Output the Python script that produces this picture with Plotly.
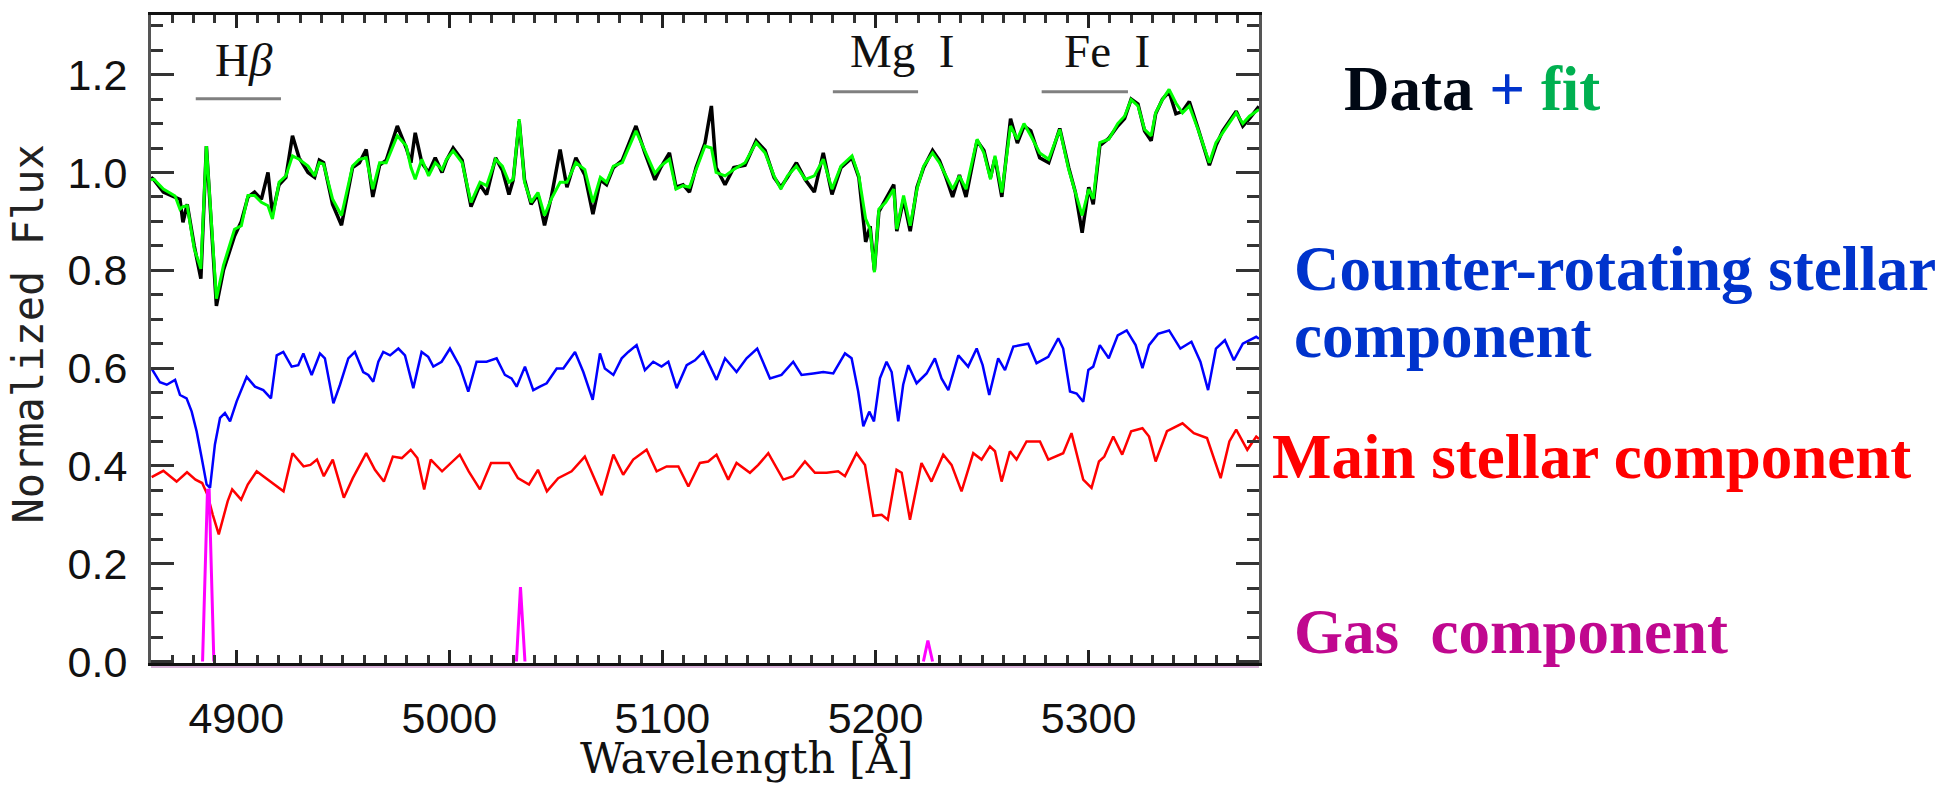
import plotly.graph_objects as go

# ---------------- data ----------------
wl_fit = [4860.0, 4861.4, 4865.8, 4871.3, 4873.6, 4875.0, 4877.0, 4880.3, 4883.4, 4886.0,
          4890.7, 4894.0, 4899.2, 4902.4, 4905.5, 4908.6, 4911.8, 4914.9, 4917.0, 4920.1,
          4923.3, 4926.4, 4929.5, 4933.7, 4936.8, 4939.0, 4941.0, 4945.2, 4949.4, 4954.6,
          4957.8, 4961.0, 4964.1, 4967.3, 4970.4, 4975.6, 4979.8, 4982.0, 4984.0, 4987.1,
          4990.3, 4993.4, 4996.6, 4998.7, 5001.8, 5006.0, 5010.2, 5014.4, 5017.5, 5021.7,
          5024.9, 5028.0, 5030.0, 5032.8, 5035.3, 5038.4, 5041.6, 5044.7, 5047.9, 5052.0,
          5055.2, 5059.4, 5063.6, 5067.4, 5070.9, 5073.8, 5077.0, 5081.2, 5087.6, 5091.8,
          5096.5, 5099.2, 5103.3, 5106.4, 5109.7, 5112.7, 5115.8, 5120.0, 5123.0, 5125.2,
          5129.4, 5133.5, 5138.8, 5144.0, 5148.2, 5152.4, 5155.6, 5158.7, 5162.9, 5167.1,
          5171.3, 5175.5, 5179.6, 5183.8, 5189.0, 5192.2, 5195.4, 5197.5, 5199.5, 5201.6,
          5204.8, 5208.6, 5210.0, 5213.2, 5216.3, 5219.5, 5222.6, 5226.8, 5230.0, 5233.1,
          5236.2, 5239.4, 5242.5, 5247.7, 5250.9, 5254.0, 5256.1, 5259.3, 5263.4, 5266.6,
          5269.7, 5272.9, 5277.1, 5281.3, 5286.5, 5290.7, 5293.8, 5297.0, 5300.1, 5302.2,
          5305.3, 5309.5, 5313.7, 5316.9, 5320.0, 5323.2, 5326.3, 5329.4, 5331.5, 5334.7,
          5337.8, 5341.0, 5344.1, 5347.3, 5351.4, 5356.7, 5359.8, 5363.0, 5366.1, 5369.3,
          5372.4, 5375.5, 5380.0]
flux_fit = [0.985, 0.986, 0.966, 0.952, 0.925, 0.930, 0.932, 0.844, 0.803, 1.054,
            0.742, 0.810, 0.884, 0.891, 0.953, 0.953, 0.939, 0.932, 0.905, 0.980,
            0.993, 1.034, 1.027, 1.013, 0.993, 1.020, 1.017, 0.946, 0.912, 1.013,
            1.027, 1.030, 0.966, 1.020, 1.020, 1.075, 1.054, 1.010, 0.986, 1.027,
            0.993, 1.020, 1.006, 1.027, 1.044, 1.020, 0.939, 0.980, 0.973, 1.027,
            1.013, 0.980, 0.986, 1.109, 0.980, 0.939, 0.959, 0.912, 0.946, 0.980,
            0.980, 1.020, 1.006, 0.939, 0.990, 0.980, 1.013, 1.020, 1.085, 1.045,
            0.998, 1.013, 1.027, 0.966, 0.973, 0.970, 1.006, 1.054, 1.050, 1.000,
            0.993, 1.006, 1.020, 1.061, 1.040, 0.993, 0.966, 0.993, 1.013, 0.986,
            0.993, 1.027, 0.966, 1.013, 1.034, 0.993, 0.905, 0.884, 0.796, 0.925,
            0.939, 0.966, 0.884, 0.953, 0.891, 0.966, 1.013, 1.040, 1.020, 0.993,
            0.966, 0.993, 0.966, 1.068, 1.040, 0.986, 1.034, 0.959, 1.095, 1.068,
            1.100, 1.075, 1.040, 1.027, 1.088, 1.006, 0.959, 0.912, 0.966, 0.946,
            1.061, 1.068, 1.100, 1.115, 1.149, 1.136, 1.088, 1.075, 1.122, 1.149,
            1.170, 1.142, 1.122, 1.136, 1.088, 1.020, 1.061, 1.081, 1.100, 1.122,
            1.100, 1.115, 1.129]
flux_data = [0.990, 0.985, 0.960, 0.950, 0.945, 0.898, 0.935, 0.850, 0.783, 1.054,
             0.727, 0.800, 0.870, 0.900, 0.950, 0.960, 0.945, 1.000, 0.915, 0.975,
             0.990, 1.075, 1.030, 1.000, 0.990, 1.025, 1.020, 0.935, 0.892, 1.010,
             1.020, 1.047, 0.950, 1.015, 1.025, 1.095, 1.050, 1.020, 1.081, 1.020,
             1.000, 1.030, 1.000, 1.025, 1.050, 1.025, 0.930, 0.975, 0.955, 1.030,
             1.005, 0.955, 0.985, 1.105, 0.985, 0.935, 0.955, 0.892, 0.950, 1.047,
             0.970, 1.030, 0.995, 0.915, 0.985, 0.975, 1.010, 1.025, 1.095, 1.040,
             0.985, 1.010, 1.040, 0.970, 0.975, 0.960, 1.010, 1.060, 1.136, 1.010,
             0.975, 1.010, 1.015, 1.065, 1.045, 0.990, 0.970, 0.990, 1.020, 0.985,
             0.960, 1.040, 0.955, 1.010, 1.030, 0.990, 0.858, 0.890, 0.800, 0.920,
             0.945, 0.975, 0.880, 0.945, 0.880, 0.970, 1.010, 1.045, 1.025, 0.990,
             0.950, 0.995, 0.950, 1.065, 1.045, 0.990, 1.030, 0.950, 1.110, 1.060,
             1.095, 1.085, 1.030, 1.020, 1.090, 1.010, 0.960, 0.877, 0.970, 0.935,
             1.055, 1.070, 1.095, 1.110, 1.150, 1.140, 1.085, 1.065, 1.120, 1.150,
             1.165, 1.120, 1.125, 1.145, 1.090, 1.015, 1.055, 1.085, 1.105, 1.125,
             1.095, 1.110, 1.135]

wl_counter = [4860.3, 4864.2, 4867.4, 4871.3, 4873.6, 4876.7, 4879.1, 4881.4, 4883.8, 4886.1,
              4887.7, 4890.0, 4892.4, 4894.7, 4897.1, 4900.2, 4904.9, 4908.8, 4912.7, 4916.3,
              4919.0, 4922.1, 4926.0, 4929.1, 4931.5, 4935.4, 4939.3, 4941.6, 4945.6, 4948.7,
              4952.6, 4955.7, 4959.6, 4962.0, 4964.3, 4966.7, 4969.0, 4972.2, 4976.1, 4979.2,
              4983.1, 4987.0, 4990.1, 4992.5, 4996.4, 5000.3, 5005.0, 5008.9, 5012.8, 5017.5,
              5022.2, 5026.1, 5029.2, 5031.6, 5035.5, 5039.4, 5042.5, 5045.7, 5050.4, 5053.5,
              5059.0, 5062.9, 5067.3, 5070.7, 5073.0, 5077.0, 5080.9, 5084.0, 5087.9, 5091.8,
              5095.7, 5099.6, 5102.8, 5106.7, 5111.4, 5115.3, 5119.2, 5125.4, 5129.4, 5134.8,
              5139.5, 5144.5, 5150.5, 5155.9, 5161.4, 5165.3, 5170.8, 5175.5, 5180.2, 5185.7,
              5188.8, 5191.9, 5194.3, 5197.1, 5199.3, 5202.1, 5205.2, 5207.6, 5210.7, 5213.0,
              5215.4, 5219.3, 5224.0, 5227.9, 5231.0, 5234.2, 5238.9, 5243.5, 5247.5, 5250.3,
              5253.4, 5257.6, 5260.8, 5264.7, 5271.7, 5275.6, 5281.1, 5285.8, 5288.1, 5291.3,
              5294.4, 5297.5, 5299.9, 5302.2, 5305.3, 5309.5, 5313.7, 5317.9, 5322.1, 5325.3,
              5328.4, 5332.6, 5337.8, 5343.1, 5348.3, 5352.5, 5356.1, 5359.8, 5364.0, 5368.2,
              5372.4, 5378.7, 5380.0]
flux_counter = [0.599, 0.571, 0.566, 0.576, 0.545, 0.538, 0.511, 0.471, 0.416, 0.362,
                0.355, 0.444, 0.498, 0.508, 0.491, 0.532, 0.582, 0.562, 0.555, 0.538,
                0.626, 0.633, 0.603, 0.606, 0.630, 0.586, 0.630, 0.620, 0.528, 0.566,
                0.620, 0.633, 0.592, 0.586, 0.572, 0.613, 0.633, 0.626, 0.640, 0.626,
                0.559, 0.633, 0.623, 0.603, 0.613, 0.640, 0.603, 0.552, 0.613, 0.613,
                0.620, 0.586, 0.579, 0.562, 0.603, 0.555, 0.562, 0.569, 0.599, 0.599,
                0.633, 0.592, 0.535, 0.630, 0.599, 0.586, 0.620, 0.633, 0.647, 0.596,
                0.613, 0.603, 0.613, 0.559, 0.606, 0.616, 0.633, 0.576, 0.620, 0.592,
                0.620, 0.640, 0.579, 0.586, 0.613, 0.586, 0.589, 0.592, 0.589, 0.630,
                0.620, 0.552, 0.481, 0.511, 0.491, 0.579, 0.613, 0.592, 0.491, 0.566,
                0.606, 0.569, 0.589, 0.620, 0.579, 0.555, 0.626, 0.603, 0.640, 0.606,
                0.545, 0.620, 0.596, 0.644, 0.650, 0.610, 0.623, 0.661, 0.640, 0.552,
                0.548, 0.531, 0.596, 0.603, 0.647, 0.620, 0.667, 0.677, 0.647, 0.600,
                0.647, 0.670, 0.677, 0.640, 0.654, 0.613, 0.555, 0.640, 0.657, 0.616,
                0.650, 0.664, 0.660]

wl_main = [4860.3, 4865.8, 4872.0, 4876.9, 4880.9, 4884.0, 4886.5, 4889.0, 4891.8, 4896.0,
           4898.1, 4902.3, 4905.4, 4909.6, 4912.7, 4916.9, 4922.2, 4926.4, 4931.6, 4934.8,
           4937.9, 4941.1, 4945.3, 4950.5, 4954.7, 4961.0, 4965.1, 4969.3, 4973.5, 4977.7,
           4981.9, 4985.0, 4988.2, 4991.3, 4996.6, 5004.9, 5009.1, 5014.4, 5019.6, 5028.0,
           5032.2, 5037.4, 5041.6, 5045.8, 5051.1, 5057.4, 5063.6, 5071.5, 5077.0, 5081.6,
           5086.3, 5092.6, 5097.3, 5102.0, 5107.5, 5112.2, 5117.6, 5121.5, 5125.4, 5130.9,
           5134.8, 5141.1, 5145.0, 5149.7, 5156.7, 5161.4, 5166.9, 5171.6, 5177.1, 5182.5,
           5185.7, 5191.1, 5195.1, 5199.0, 5202.9, 5205.8, 5209.9, 5212.3, 5216.2, 5221.6,
           5226.3, 5231.8, 5235.7, 5240.4, 5245.9, 5249.8, 5253.7, 5256.1, 5259.2, 5263.1,
           5266.2, 5270.9, 5277.2, 5281.1, 5288.1, 5292.0, 5297.5, 5301.4, 5304.9, 5307.4,
           5311.6, 5315.8, 5320.0, 5325.3, 5328.4, 5331.5, 5336.8, 5344.1, 5349.4, 5355.6,
           5362.0, 5366.1, 5369.3, 5374.5, 5378.7, 5380.0]
flux_main = [0.377, 0.390, 0.368, 0.387, 0.372, 0.365, 0.341, 0.300, 0.260, 0.328,
             0.352, 0.331, 0.362, 0.389, 0.379, 0.365, 0.348, 0.426, 0.399, 0.402,
             0.413, 0.379, 0.413, 0.335, 0.375, 0.426, 0.392, 0.368, 0.419, 0.416,
             0.433, 0.416, 0.352, 0.413, 0.389, 0.423, 0.389, 0.352, 0.406, 0.406,
             0.375, 0.362, 0.392, 0.348, 0.375, 0.389, 0.419, 0.340, 0.423, 0.382,
             0.413, 0.433, 0.389, 0.399, 0.399, 0.358, 0.406, 0.409, 0.423, 0.372,
             0.406, 0.386, 0.402, 0.426, 0.372, 0.379, 0.409, 0.386, 0.386, 0.389,
             0.379, 0.426, 0.402, 0.298, 0.300, 0.290, 0.392, 0.386, 0.290, 0.406,
             0.368, 0.423, 0.402, 0.348, 0.426, 0.413, 0.440, 0.430, 0.368, 0.430,
             0.413, 0.450, 0.450, 0.413, 0.426, 0.467, 0.372, 0.355, 0.409, 0.419,
             0.460, 0.423, 0.471, 0.477, 0.460, 0.409, 0.471, 0.487, 0.467, 0.457,
             0.375, 0.450, 0.474, 0.433, 0.460, 0.455]

# gas emission lines (None separates the lines)
wl_gas = [4884.2, 4886.5, 4887.3, 4889.5, None, 5031.5, 5033.4, 5035.5, None, 5222.5, 5224.6, 5226.8]
flux_gas = [0.0, 0.35, 0.35, 0.0, None, 0.0, 0.152, 0.0, None, 0.0, 0.043, 0.0]

# line identifications: (label, bar start, bar end, label centre)
line_ids = [("H<i>β</i>", 4881.0, 4921.0, 4903.6),
            ("Mg  I", 5180.0, 5220.0, 5212.4),
            ("Fe  I", 5278.0, 5318.5, 5308.8)]
x_ticks = [4900, 5000, 5100, 5200, 5300]
y_ticks = [0.0, 0.2, 0.4, 0.6, 0.8, 1.0, 1.2]

# ---------------- figure ----------------
fig = go.Figure()
fig.add_trace(go.Scatter(x=wl_fit, y=flux_data, mode="lines",
                         line=dict(color="#000000", width=3.5), name="Data"))
fig.add_trace(go.Scatter(x=wl_fit, y=flux_fit, mode="lines",
                         line=dict(color="#00ff00", width=3), name="fit"))
fig.add_trace(go.Scatter(x=wl_counter, y=flux_counter, mode="lines",
                         line=dict(color="#0000ff", width=2.5), name="Counter-rotating"))
fig.add_trace(go.Scatter(x=wl_main, y=flux_main, mode="lines",
                         line=dict(color="#ff0000", width=2.5), name="Main"))
fig.add_trace(go.Scatter(x=wl_gas, y=flux_gas, mode="lines", connectgaps=False,
                         line=dict(color="#ff00ff", width=3), name="Gas"))

L, R, T, B = 151, 693, 12, 123
W, H = 1952, 786
pw, ph = W - L - R, H - T - B

def px(xp):
    return (xp - L) / pw

def py(yp):
    return (H - B - yp) / ph

shapes = []
annotations = []
label_y = [1.151, 1.165, 1.165]
text_y = [1.230, 1.248, 1.248]
for (lab, a, b, c), ly, ty in zip(line_ids, label_y, text_y):
    shapes.append(dict(type="line", xref="x", yref="y", x0=a, x1=b, y0=ly, y1=ly,
                       line=dict(color="#808080", width=3)))
    annotations.append(dict(x=c, y=ty, xref="x", yref="y", text=lab, showarrow=False,
                            xanchor="center", yanchor="middle",
                            font=dict(family="Liberation Serif", size=47, color="#111111")))

# pink band under the bottom axis
shapes.append(dict(type="line", xref="paper", yref="paper", x0=0, x1=1, y0=py(666), y1=py(666),
                   line=dict(color="#d9b3d9", width=4), layer="below"))

serif = "Liberation Serif"
annotations += [
    dict(x=px(29), y=py(333), xref="paper", yref="paper", text="Normalized Flux", textangle=-90,
         showarrow=False, xanchor="center", yanchor="middle",
         font=dict(family="DejaVu Sans Mono", size=42, color="#222222")),
    dict(x=px(747), y=py(758), xref="paper", yref="paper", text="Wavelength [Å]",
         showarrow=False, xanchor="center", yanchor="middle",
         font=dict(family="DejaVu Serif", size=43, color="#111111")),
    dict(x=px(1342), y=py(86), xref="paper", yref="paper",
         text="<b><span style='color:#000814'>Data</span> <span style='color:#0033cc'>+</span> "
              "<span style='color:#00b050'>fit</span></b>",
         showarrow=False, xanchor="left", yanchor="middle",
         font=dict(family=serif, size=63, color="#000814")),
    dict(x=px(1292), y=py(267), xref="paper", yref="paper", text="<b>Counter-rotating stellar</b>",
         showarrow=False, xanchor="left", yanchor="middle",
         font=dict(family=serif, size=63, color="#0033cc")),
    dict(x=px(1292), y=py(334), xref="paper", yref="paper", text="<b>component</b>",
         showarrow=False, xanchor="left", yanchor="middle",
         font=dict(family=serif, size=63, color="#0033cc")),
    dict(x=px(1270), y=py(456), xref="paper", yref="paper", text="<b>Main stellar component</b>",
         showarrow=False, xanchor="left", yanchor="middle",
         font=dict(family=serif, size=63, color="#ff0000")),
    dict(x=px(1292), y=py(632), xref="paper", yref="paper", text="<b>Gas  component</b>",
         showarrow=False, xanchor="left", yanchor="middle",
         font=dict(family=serif, size=63, color="#c0088f")),
]

fig.update_layout(
    width=W, height=H,
    margin=dict(l=L, r=R, t=T, b=B, pad=0),
    paper_bgcolor="white", plot_bgcolor="white",
    showlegend=False,
    shapes=shapes, annotations=annotations,
    xaxis=dict(range=[4860, 5380], tickvals=x_ticks, ticktext=[str(v) for v in x_ticks],
               ticks="inside", ticklen=13, tickwidth=3, tickcolor="#222222",
               minor=dict(dtick=10, tick0=4860, ticks="inside", ticklen=8, tickwidth=3,
                          tickcolor="#333333", showgrid=False),
               showline=True, linecolor="#111111", linewidth=3, mirror="ticks",
               showgrid=False, zeroline=False, ticklabelstandoff=15,
               tickfont=dict(family="Liberation Sans", size=43, color="#111111")),
    yaxis=dict(range=[-0.003, 1.322], tickvals=y_ticks, ticktext=["%.1f" % v for v in y_ticks],
               ticks="inside", ticklen=23, tickwidth=3, tickcolor="#333333",
               minor=dict(dtick=0.05, tick0=0, ticks="inside", ticklen=12, tickwidth=3,
                          tickcolor="#333333", showgrid=False),
               showline=True, linecolor="#555555", linewidth=3, mirror="ticks",
               showgrid=False, zeroline=False, ticklabelstandoff=12,
               tickfont=dict(family="Liberation Sans", size=43, color="#111111")),
)

fig.write_html("out.html")
